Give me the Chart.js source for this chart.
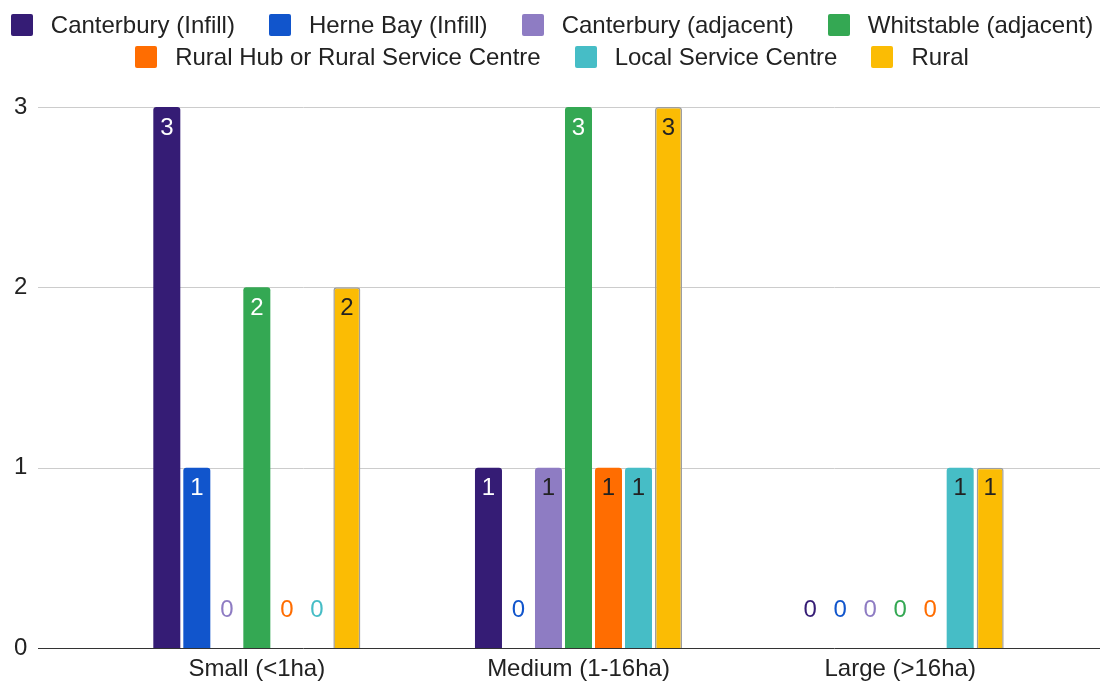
<!DOCTYPE html>
<html>
<head>
<meta charset="utf-8">
<script src="https://cdn.jsdelivr.net/npm/chart.js@4"></script>
<style>
  html, body { margin: 0; padding: 0; background: #fff; }
  #wrap { position: relative; width: 1104px; height: 684px; overflow: hidden; }
  #c { position: absolute; left: 0; top: 0; }
  #legend { position: absolute; left: 0; top: 13px; width: 1104px; font-family: "Liberation Sans", Arial, sans-serif; font-size: 24px; line-height: 24px; color: #222; }
  .row { display: flex; justify-content: center; height: 32px; align-items: flex-start; }
  .item { display: flex; align-items: center; margin: 0 17px; height: 24px; white-space: nowrap; }
  .box { width: 22px; height: 22px; border-radius: 2px; margin-right: 18px; flex: none; }
</style>
</head>
<body>
<div id="wrap">
  <canvas id="c" width="1104" height="684"></canvas>
  <div id="legend"></div>
</div>
<script>
const categories = ['Small (<1ha)', 'Medium (1-16ha)', 'Large (>16ha)'];
const seriesNames = ['Canterbury (Infill)', 'Herne Bay (Infill)', 'Canterbury (adjacent)', 'Whitstable (adjacent)', 'Rural Hub or Rural Service Centre', 'Local Service Centre', 'Rural'];
const canterburyInfill = [3, 1, 0];
const herneBayInfill = [1, 0, 0];
const canterburyAdjacent = [0, 1, 0];
const whitstableAdjacent = [2, 3, 0];
const ruralHub = [0, 1, 0];
const localServiceCentre = [0, 1, 1];
const rural = [2, 3, 1];
const yTicks = [0, 1, 2, 3];

const seriesValues = [canterburyInfill, herneBayInfill, canterburyAdjacent, whitstableAdjacent, ruralHub, localServiceCentre, rural];
const colors = ['#351c75', '#1155cc', '#8e7cc3', '#34a853', '#ff6d01', '#46bdc6', '#fbbc04'];
const labelColors = ['#ffffff', '#ffffff', '#222222', '#ffffff', '#222222', '#222222', '#222222'];
const legendRows = [[0, 1, 2, 3], [4, 5, 6]];
const FONT = '"Liberation Sans", Arial, sans-serif';

const legend = document.getElementById('legend');
legendRows.forEach(r => {
  const row = document.createElement('div');
  row.className = 'row';
  r.forEach(i => {
    const it = document.createElement('div');
    it.className = 'item';
    const b = document.createElement('span');
    b.className = 'box';
    b.style.background = colors[i];
    const t = document.createElement('span');
    t.textContent = seriesNames[i];
    it.appendChild(b); it.appendChild(t);
    row.appendChild(it);
  });
  legend.appendChild(row);
});

Chart.defaults.font.family = FONT;
Chart.defaults.font.size = 24;
Chart.defaults.color = '#222';

const datasets = seriesValues.map((vals, i) => ({
  label: seriesNames[i],
  data: vals,
  backgroundColor: colors[i],
  borderColor: i === 6 ? '#9e9e9e' : colors[i],
  borderWidth: i === 6 ? 1.5 : 0,
  borderSkipped: 'bottom',
  borderRadius: { topLeft: 3, topRight: 3, bottomLeft: 0, bottomRight: 0 },
  barPercentage: 0.9,
  categoryPercentage: 0.653
}));

const gridPlugin = {
  id: 'gridExt',
  beforeDatasetsDraw(chart) {
    const ctx = chart.ctx, y = chart.scales.y;
    ctx.save();
    yTicks.forEach(v => {
      if (v === 0) return;
      const py = Math.round(y.getPixelForValue(v)) + 0.5;
      ctx.strokeStyle = '#cccccc';
      ctx.lineWidth = 1;
      ctx.beginPath(); ctx.moveTo(38, py); ctx.lineTo(1100, py); ctx.stroke();
    });
    ctx.restore();
  },
  afterDatasetsDraw(chart) {
    const ctx = chart.ctx, y = chart.scales.y;
    ctx.save();
    const py = Math.round(y.getPixelForValue(0)) + 0.5;
    ctx.strokeStyle = '#333333';
    ctx.lineWidth = 1;
    ctx.beginPath(); ctx.moveTo(38, py); ctx.lineTo(1100, py); ctx.stroke();
    ctx.font = '24px ' + FONT;
    ctx.textAlign = 'center';
    ctx.textBaseline = 'middle';
    chart.data.datasets.forEach((ds, di) => {
      const meta = chart.getDatasetMeta(di);
      meta.data.forEach((el, idx) => {
        const v = ds.data[idx];
        if (v > 0) {
          ctx.fillStyle = labelColors[di];
          ctx.fillText(String(v), el.x, el.y + 21);
        } else {
          ctx.fillStyle = colors[di];
          ctx.fillText(String(v), el.x, el.base - 38);
        }
      });
    });
    ctx.restore();
  }
};

new Chart(document.getElementById('c'), {
  type: 'bar',
  data: { labels: categories, datasets },
  options: {
    responsive: false,
    animation: false,
    layout: { padding: { top: 107, right: 43, bottom: 0, left: 14 } },
    plugins: { legend: { display: false }, tooltip: { enabled: false } },
    scales: {
      x: {
        grid: { display: false, drawTicks: false },
        border: { display: false },
        ticks: { padding: 7, color: '#222', maxRotation: 0, autoSkip: false },
        afterFit(scale) { scale.height = 36; }
      },
      y: {
        min: 0, max: 3,
        afterBuildTicks(scale) { scale.ticks = yTicks.map(v => ({ value: v })); },
        grid: { display: false, drawTicks: false },
        border: { display: false },
        ticks: { padding: 0, crossAlign: 'far', color: '#222' },
        afterFit(scale) { scale.width = 82; }
      }
    }
  },
  plugins: [gridPlugin]
});
</script>
</body>
</html>
